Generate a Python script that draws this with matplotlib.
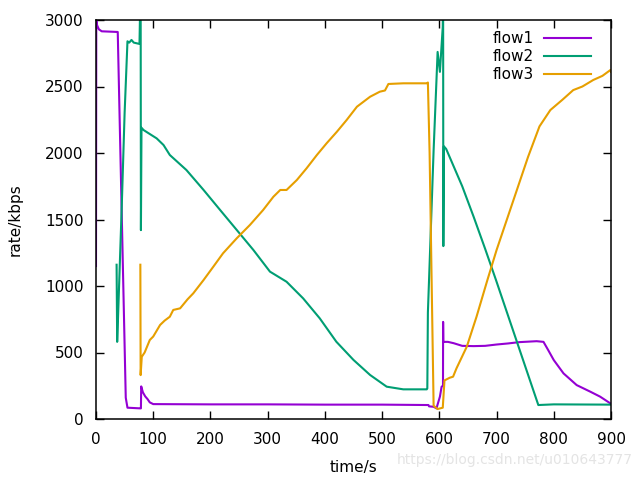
import matplotlib.pyplot as plt

# flow1 (purple)
flow1_t = [0, 0.5, 2, 5, 10, 38, 52, 55, 77, 78.5, 79, 82, 86, 90, 94, 100,
           200, 300, 400, 500, 581, 582, 590, 595, 601, 604, 606.4, 606.6, 607,
           615, 625, 640, 660, 680, 700, 720, 740, 770, 782, 790, 800, 817,
           840, 864, 881, 899, 900]
flow1_v = [1150, 3000, 2960, 2930, 2915, 2910, 160, 85, 80, 80, 245, 200, 170,
           150, 125, 112, 110, 110, 108, 108, 105, 95, 92, 80, 168, 243, 250,
           730, 580, 580, 570, 550, 548, 550, 560, 568, 578, 585, 580, 520,
           443, 343, 255, 205, 168, 117, 115]

# flow2 (green)
flow2_t = [36, 37, 38, 45, 50, 55, 58, 62, 66, 76, 78, 78.5, 79.5, 83, 95, 106,
           118, 129, 158, 188, 217, 246, 275, 304, 333, 362, 391, 420, 450,
           479, 508, 537, 578, 579, 580, 590, 597, 601, 606, 606.6, 607, 608,
           612, 628, 640, 660, 680, 699, 773, 800, 900]
flow2_v = [1160, 580, 700, 1600, 2300, 2840, 2830, 2850, 2830, 2820, 3300, 1420,
           2190, 2173, 2140, 2110, 2060, 1985, 1872, 1722, 1571, 1421, 1271,
           1108, 1032, 907, 757, 581, 444, 331, 243, 223, 223, 230, 800, 2020,
           2760, 2610, 2950, 3300, 1300, 2050, 2030, 1870, 1750, 1520, 1280,
           1045, 105, 110, 108]

# flow3 (orange)
flow3_t = [77.5, 78, 80, 85, 94, 100, 112, 120, 129, 135, 147, 160, 170, 188,
           205, 222, 246, 269, 292, 310, 322, 333, 351, 368, 386, 403, 421,
           438, 456, 479, 496, 505, 511, 537, 579, 580, 583, 590, 597, 606,
           609, 618, 624, 630, 648, 665, 684, 700, 755, 775, 794, 815, 834,
           850, 869, 885, 899, 900]
flow3_v = [1160, 330, 468, 500, 594, 620, 707, 740, 769, 820, 832, 900, 945,
           1045, 1145, 1246, 1359, 1459, 1571, 1671, 1722, 1722, 1797, 1885,
           1985, 2073, 2160, 2248, 2348, 2423, 2461, 2470, 2519, 2524, 2524,
           2530, 2000, 100, 75, 85, 290, 310, 318, 381, 544, 769, 1045, 1270,
           1970, 2200, 2323, 2400, 2473, 2500, 2549, 2580, 2624, 2610]

x_ticks = [0, 100, 200, 300, 400, 500, 600, 700, 800, 900]
y_ticks = [0, 500, 1000, 1500, 2000, 2500, 3000]

plt.rcParams['font.family'] = 'DejaVu Sans'
plt.rcParams['font.size'] = 11

fig = plt.figure(figsize=(6.4, 4.8), dpi=100)
ax = fig.add_axes([96 / 640, 1 - 419 / 480, 515 / 640, 399 / 480])

ax.plot(flow1_t, flow1_v, color='#9400d3', lw=1.5, label='flow1')
ax.plot(flow2_t, flow2_v, color='#009e73', lw=1.5, label='flow2')
ax.plot(flow3_t, flow3_v, color='#e69f00', lw=1.5, label='flow3')

ax.set_xlim(0, 900)
ax.set_ylim(0, 3000)
ax.set_xticks(x_ticks)
ax.set_yticks(y_ticks)
ax.tick_params(direction='in', top=True, right=True, length=6, width=1,
               labelsize=11, pad=9)
for s in ax.spines.values():
    s.set_linewidth(1.1)

ax.set_xlabel('time/s', fontsize=11, labelpad=10)
ax.set_ylabel('rate/kbps', fontsize=11, labelpad=16)

ax.legend(loc='upper right', frameon=False, markerfirst=False,
          handlelength=3.1, handletextpad=0.65, labelspacing=0.2,
          borderpad=0, borderaxespad=0, bbox_to_anchor=(0.961, 0.972),
          fontsize=11)

fig.text(0.988, 0.028, 'https://blog.csdn.net/u010643777', ha='right',
         va='bottom', fontsize=10, color='#e4e4e4')

fig.savefig('out.png', dpi=100)
